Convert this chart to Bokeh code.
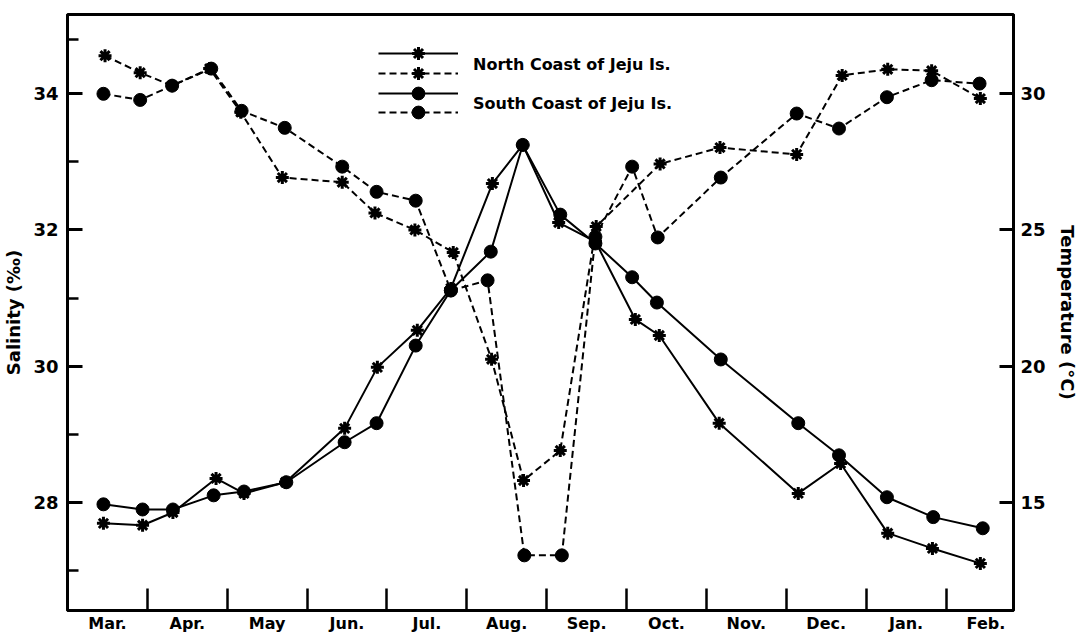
from bokeh.plotting import figure
from bokeh.models import Range1d, LinearAxis, FixedTicker, Legend, LegendItem
from bokeh.embed import file_html
from bokeh.resources import INLINE

# ---- data (x = month position, 0 = start of March) ----
months = ["Mar.", "Apr.", "May", "Jun.", "Jul.", "Aug.", "Sep.", "Oct.", "Nov.", "Dec.", "Jan.", "Feb."]

temp_north_x = [0.45, 0.94, 1.32, 1.86, 2.21, 2.73, 3.47, 3.88, 4.38, 4.80, 5.32, 5.70,
                6.15, 6.61, 7.11, 7.41, 8.16, 9.15, 9.68, 10.27, 10.83, 11.43]
temp_north = [14.22, 14.15, 14.62, 15.87, 15.32, 15.73, 17.71, 19.95, 21.31, 22.85, 26.70, 28.12,
              25.27, 24.57, 21.71, 21.12, 17.90, 15.32, 16.42, 13.86, 13.30, 12.75]

temp_south_x = [0.45, 0.94, 1.32, 1.83, 2.21, 2.74, 3.47, 3.87, 4.36, 4.80, 5.30, 5.70,
                6.17, 6.61, 7.07, 7.38, 8.18, 9.15, 9.66, 10.26, 10.84, 11.46]
temp_south = [14.92, 14.73, 14.73, 15.25, 15.39, 15.73, 17.20, 17.90, 20.75, 22.78, 24.20, 28.12,
              25.56, 24.50, 23.26, 22.33, 20.24, 17.90, 16.72, 15.18, 14.45, 14.04]

sal_north_x = [0.47, 0.91, 1.31, 1.78, 2.17, 2.69, 3.44, 3.85, 4.35, 4.83, 5.31, 5.71,
               6.17, 6.62, 7.42, 8.17, 9.13, 9.70, 10.27, 10.82, 11.43]
sal_north = [34.56, 34.31, 34.12, 34.37, 33.73, 32.77, 32.70, 32.25, 32.00, 31.67, 30.10, 28.32,
             28.76, 32.05, 32.97, 33.21, 33.11, 34.27, 34.36, 34.34, 33.93]

sal_south_x = [0.45, 0.91, 1.31, 1.80, 2.18, 2.72, 3.44, 3.87, 4.36, 4.80, 5.26, 5.72,
               6.19, 6.61, 7.07, 7.39, 8.18, 9.13, 9.66, 10.26, 10.82, 11.42]
sal_south = [34.00, 33.91, 34.12, 34.37, 33.75, 33.50, 32.93, 32.56, 32.43, 31.11, 31.26, 27.22,
             27.22, 31.90, 32.93, 31.89, 32.77, 33.71, 33.49, 33.95, 34.20, 34.15]

sal_major = [28, 30, 32, 34]
sal_minor = [27, 29, 31, 33, 34.8]
temp_major = [15, 20, 25, 30]

FONT = "DejaVu Sans"

p = figure(width=1080, height=636, output_backend="svg", toolbar_location=None,
           x_range=Range1d(0, 11.845), y_range=Range1d(26.41, 35.165),
           min_border_left=67, min_border_right=63, min_border_top=14, min_border_bottom=26)
p.extra_y_ranges = {"temp": Range1d(11.02, 32.91)}
p.xgrid.visible = False
p.ygrid.visible = False
p.outline_line_color = "black"
p.outline_line_width = 3
p.background_fill_color = "white"
p.border_fill_color = "white"

# x axis
xa = p.xaxis[0]
xa.ticker = FixedTicker(ticks=[i + 0.5 for i in range(12)], minor_ticks=list(range(1, 12)))
xa.major_label_overrides = {i + 0.5: m for i, m in enumerate(months)}
xa.major_tick_in = 0
xa.major_tick_out = 0
xa.minor_tick_in = 22
xa.minor_tick_out = 0
xa.minor_tick_line_width = 2.5
xa.axis_line_width = 3
xa.major_label_text_font = FONT
xa.major_label_text_font_style = "bold"
xa.major_label_text_font_size = "16px"
xa.major_label_text_color = "black"
xa.major_label_standoff = 3

# left axis (salinity)
ya = p.yaxis[0]
ya.ticker = FixedTicker(ticks=sal_major, minor_ticks=sal_minor)
ya.major_tick_in = 15
ya.major_tick_out = 0
ya.minor_tick_in = 11
ya.minor_tick_out = 0
ya.major_tick_line_width = 3
ya.minor_tick_line_width = 2.5
ya.axis_line_width = 3
ya.major_label_text_font = FONT
ya.major_label_text_font_style = "bold"
ya.major_label_text_font_size = "18px"
ya.major_label_text_color = "black"
ya.major_label_standoff = 9
ya.axis_label = "Salinity (‰)"
ya.axis_label_text_font = FONT
ya.axis_label_text_font_style = "bold"
ya.axis_label_text_font_size = "18px"
ya.axis_label_text_color = "black"
ya.axis_label_standoff = 6

# right axis (temperature)
ra = LinearAxis(y_range_name="temp")
ra.ticker = FixedTicker(ticks=temp_major)
ra.major_tick_in = 14
ra.major_tick_out = 0
ra.minor_tick_line_color = None
ra.major_tick_line_width = 3
ra.axis_line_width = 3
ra.major_label_text_font = FONT
ra.major_label_text_font_style = "bold"
ra.major_label_text_font_size = "18px"
ra.major_label_text_color = "black"
ra.major_label_standoff = 7
ra.axis_label = "Temperature (°C)"
ra.axis_label_text_font = FONT
ra.axis_label_text_font_style = "bold"
ra.axis_label_text_font_size = "18px"
ra.axis_label_text_color = "black"
ra.axis_label_standoff = 8
p.add_layout(ra, "right")

DASH = "7 4"
# temperature (solid)
l_tn = p.line(temp_north_x, temp_north, y_range_name="temp", line_color="black", line_width=2)
s_tn = p.scatter(temp_north_x, temp_north, y_range_name="temp", marker="asterisk", size=13,
                 line_color="black", line_width=3)
l_ts = p.line(temp_south_x, temp_south, y_range_name="temp", line_color="black", line_width=2)
s_ts = p.scatter(temp_south_x, temp_south, y_range_name="temp", marker="circle", size=13,
                 fill_color="black", line_color="black")
# salinity (dashed)
l_sn = p.line(sal_north_x, sal_north, line_color="black", line_width=2, line_dash=DASH)
s_sn = p.scatter(sal_north_x, sal_north, marker="asterisk", size=13, line_color="black", line_width=3)
l_ss = p.line(sal_south_x, sal_south, line_color="black", line_width=2, line_dash=DASH)
s_ss = p.scatter(sal_south_x, sal_south, marker="circle", size=13, fill_color="black", line_color="black")

# legend sample glyphs: one small legend per row, 20 px apart
sample_rows = [([l_tn, s_tn], 541), ([l_sn, s_sn], 521), ([l_ts, s_ts], 501), ([l_ss, s_ss], 482)]
for rends, ypos in sample_rows:
    lg = Legend(items=[LegendItem(label=" ", renderers=rends)], location=(311, ypos))
    lg.glyph_width = 80
    lg.glyph_height = 32
    lg.label_height = 20
    lg.padding = 0
    lg.margin = 0
    lg.label_standoff = 15
    lg.border_line_color = None
    lg.background_fill_alpha = 0
    p.add_layout(lg, "center")

# legend labels, each spanning two sample rows
blank = p.line(x=[], y=[], line_alpha=0)
leg_text = Legend(items=[
    LegendItem(label="North Coast of Jeju Is.", renderers=[blank]),
    LegendItem(label="South Coast of Jeju Is.", renderers=[blank]),
], location=(311, 487))
leg_text.glyph_width = 80
leg_text.glyph_height = 39
leg_text.spacing = 0
leg_text.padding = 0
leg_text.margin = 0
leg_text.label_standoff = 15
leg_text.label_text_font = FONT
leg_text.label_text_font_style = "bold"
leg_text.label_text_font_size = "16px"
leg_text.label_text_color = "black"
leg_text.border_line_color = None
leg_text.background_fill_alpha = 0
p.add_layout(leg_text, "center")

open("out.html", "w").write(file_html(p, INLINE))
